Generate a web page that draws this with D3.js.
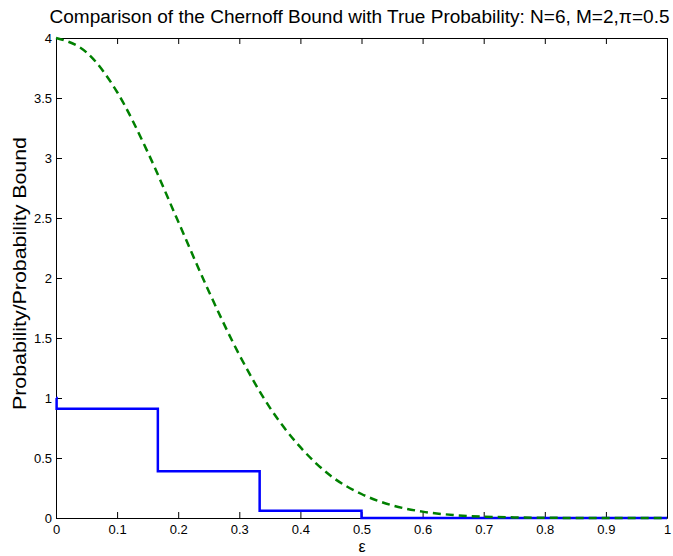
<!DOCTYPE html>
<html><head><meta charset="utf-8">
<script src="https://cdn.jsdelivr.net/npm/d3@7"></script>
<style>body{margin:0;background:#fff;} text{font-family:"Liberation Sans",Arial,sans-serif;}</style>
</head><body>
<svg id="c" width="673" height="556"></svg>
<script>
// Chernoff bound (dashed green)
const boundEps = [0,0.05,0.1,0.15,0.2,0.25,0.3,0.35,0.4,0.45,0.5,0.55,0.6,0.65,0.7,0.75,0.8,0.85,0.9,0.95,1];
const boundVal = [4,3.88,3.55,3.05,2.47,1.89,1.36,0.92,0.59,0.35,0.2,0.106,0.053,0.025,0.011,0.005,0.002,0.0006,0.0002,0.0001,0.00002];
// True probability (blue stairs)
const trueEps = [0,0.001,0.1667,0.3333,0.5,1];
const trueVal = [1,0.91,0.39,0.06,0,0];
const xTicks = [0,0.1,0.2,0.3,0.4,0.5,0.6,0.7,0.8,0.9,1];
const yTicks = [0,0.5,1,1.5,2,2.5,3,3.5,4];
const titleText = "Comparison of the Chernoff Bound with True Probability: N=6, M=2,\u03c0=0.5";

const svg = d3.select("#c");
const L=56,R=667,T=38,B=518;
const x = d3.scaleLinear().domain([0,1]).range([L,R]);
const y = d3.scaleLinear().domain([0,4]).range([B,T]);

// axes with inward ticks
const fmt = d => String(d);
svg.append("g").attr("transform",`translate(0,${B})`)
  .call(d3.axisBottom(x).tickValues(xTicks).tickFormat(fmt).tickSizeInner(-6).tickSizeOuter(0).tickPadding(7));
svg.append("g").attr("transform",`translate(0,${T})`)
  .call(d3.axisTop(x).tickValues(xTicks).tickFormat("").tickSizeInner(-6).tickSizeOuter(0));
svg.append("g").attr("transform",`translate(${L},0)`)
  .call(d3.axisLeft(y).tickValues(yTicks).tickFormat(fmt).tickSizeInner(-6).tickSizeOuter(0).tickPadding(4));
svg.append("g").attr("transform",`translate(${R},0)`)
  .call(d3.axisRight(y).tickValues(yTicks).tickFormat("").tickSizeInner(-6).tickSizeOuter(0));
svg.selectAll(".domain").attr("stroke","#000");
svg.selectAll(".tick line").attr("stroke","#000");
svg.selectAll(".tick text").style("font-size","13px").attr("fill","#000").style("font-family","Liberation Sans, Arial, sans-serif");

// true probability
svg.append("path")
  .datum(trueEps.map((e,i)=>[e,trueVal[i]]))
  .attr("fill","none").attr("stroke","#0000ff").attr("stroke-width",2.5)
  .attr("d", d3.line().x(d=>x(d[0])).y(d=>y(d[1])).curve(d3.curveStepAfter));

// bound
svg.append("path")
  .datum(boundEps.map((e,i)=>[e,boundVal[i]]))
  .attr("fill","none").attr("stroke","#008000").attr("stroke-width",2.5)
  .attr("stroke-dasharray","8,5")
  .attr("d", d3.line().x(d=>x(d[0])).y(d=>y(d[1])).curve(d3.curveMonotoneX));

// title and labels
svg.append("text").attr("x",359.5).attr("y",23).attr("text-anchor","middle")
  .attr("font-size",18).attr("textLength",620).attr("lengthAdjust","spacingAndGlyphs").text(titleText);
svg.append("text").attr("x",362).attr("y",552).attr("text-anchor","middle")
  .attr("font-size",16).text("\u03b5");
svg.append("text").attr("transform","translate(26,273.5) rotate(-90)").attr("text-anchor","middle")
  .attr("font-size",18).attr("textLength",273).attr("lengthAdjust","spacingAndGlyphs").text("Probability/Probability Bound");
</script>
</body></html>
